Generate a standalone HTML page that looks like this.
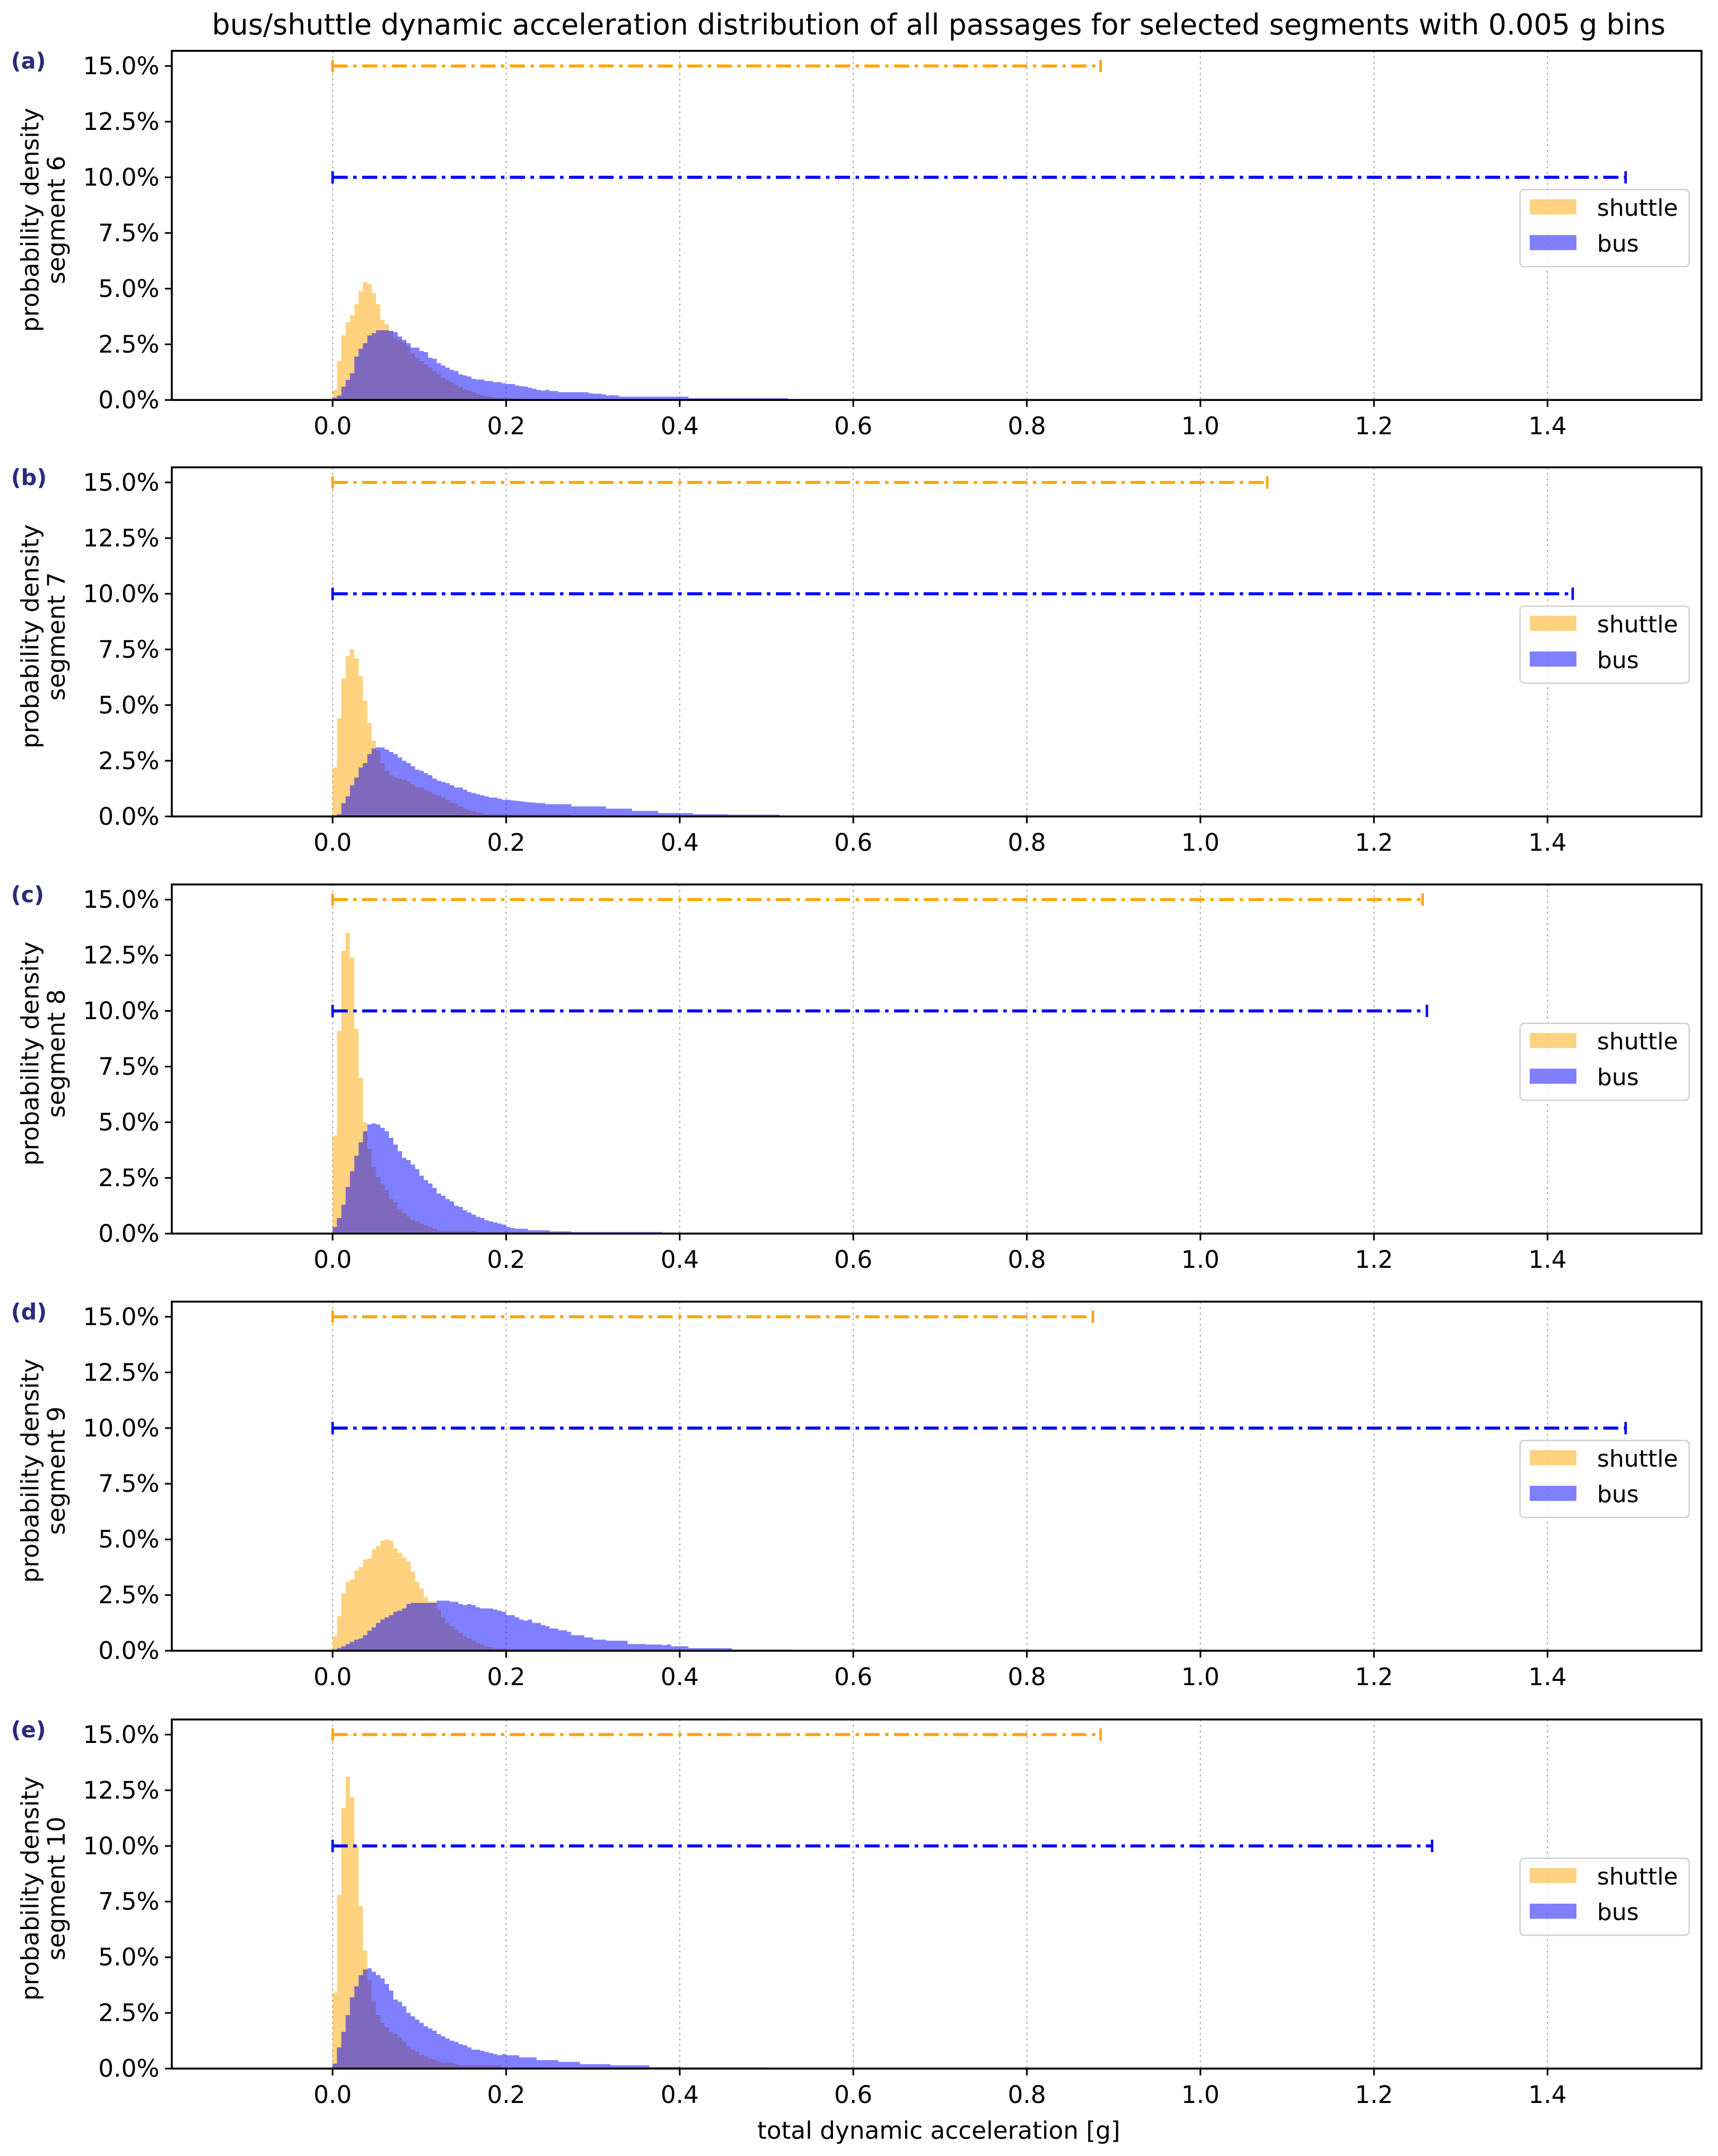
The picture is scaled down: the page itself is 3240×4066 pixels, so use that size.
<!DOCTYPE html>
<html><head><meta charset="utf-8">
<style>
html,body{margin:0;padding:0;background:#fff;}
svg{display:block;}
text{font-family:"DejaVu Sans","Liberation Sans",sans-serif;fill:#000;}
</style></head>
<body>
<svg id="chart" width="3240" height="4066" viewBox="0 0 1250 1568.6" preserveAspectRatio="none" xmlns="http://www.w3.org/2000/svg">
<text x="683" y="25" font-size="20.8" text-anchor="middle">bus/shuttle dynamic acceleration distribution of all passages for selected segments with 0.005  g bins</text>
<text x="683" y="1556" font-size="17.5" text-anchor="middle">total dynamic acceleration [g]</text>
<g id="panels"></g>
</svg>
<script>
const binWidth = 0.005;
const panelLetters = ["(a)","(b)","(c)","(d)","(e)"];
const segmentNames = ["segment 6","segment 7","segment 8","segment 9","segment 10"];
const xTicks = [0.0,0.2,0.4,0.6,0.8,1.0,1.2,1.4];
const yTicks = [0,2.5,5,7.5,10,12.5,15];
const shuttleRangeMax = [0.885,1.077,1.256,0.876,0.885];
const busRangeMax = [1.49,1.429,1.261,1.49,1.267];
const shuttleA = [0.45,1.75,2.9,3.5,3.8,4.3,4.9,5.3,5.2,4.8,4.3,3.6,3.4,3.1,2.8,2.7,2.6,2.4,2.1,1.9,1.75,1.6,1.45,1.3,1.15,1.0,0.9,0.8,0.68,0.58,0.48,0.42,0.35,0.28,0.22,0.18,0.15,0.12,0.1,0.08,0.08,0.06,0.06,0.05,0.05,0.04,0.04,0.03,0.03,0.02,0.02,0.02,0.02,0.02,0.02,0.02];
const busA = [0.1,0.2,0.6,0.9,1.2,1.95,2.3,2.55,2.9,3.0,3.13,3.13,3.13,3.1,3.05,2.85,2.7,2.55,2.35,2.35,2.2,2.15,1.9,1.85,1.65,1.55,1.45,1.35,1.3,1.15,1.1,1.05,0.95,0.92,0.92,0.85,0.85,0.8,0.8,0.75,0.72,0.72,0.65,0.62,0.6,0.55,0.5,0.45,0.42,0.45,0.4,0.4,0.35,0.35,0.35,0.35,0.35,0.35,0.35,0.3,0.28,0.28,0.25,0.2,0.22,0.2,0.15,0.15,0.15,0.15,0.15,0.15,0.15,0.15,0.15,0.15,0.15,0.15,0.15,0.15,0.15,0.15,0.08,0.08,0.08,0.08,0.08,0.08,0.08,0.08,0.08,0.08,0.08,0.08,0.08,0.08,0.08,0.08,0.08,0.08,0.08,0.08,0.08,0.08,0.08];
const shuttleB = [2.2,4.4,6.2,7.2,7.5,7.1,6.3,5.2,4.2,3.4,2.95,2.4,2.05,1.85,1.75,1.7,1.65,1.6,1.45,1.3,1.3,1.2,1.1,1.0,0.95,0.85,0.75,0.62,0.55,0.45,0.35,0.3,0.25,0.2,0.15,0.1,0.1,0.1,0.1,0.1,0.1,0.08,0.08,0.08,0.08,0.08,0.08,0.08,0.08,0.08,0.08,0.08,0.08,0.08,0.08];
const busB = [0.05,0.1,0.6,0.9,1.4,1.75,2.2,2.4,2.8,3.05,3.1,3.1,3.0,2.9,2.8,2.65,2.5,2.4,2.25,2.1,2.05,1.95,1.85,1.7,1.6,1.55,1.5,1.4,1.3,1.3,1.2,1.1,1.05,1.0,0.95,0.9,0.85,0.85,0.8,0.75,0.75,0.72,0.7,0.68,0.65,0.63,0.62,0.6,0.6,0.55,0.55,0.55,0.55,0.55,0.55,0.45,0.45,0.45,0.45,0.45,0.45,0.45,0.45,0.35,0.35,0.35,0.35,0.35,0.35,0.25,0.25,0.25,0.25,0.25,0.25,0.15,0.15,0.15,0.15,0.15,0.15,0.15,0.15,0.1,0.1,0.1,0.1,0.1,0.1,0.1,0.1,0.08,0.08,0.08,0.08,0.08,0.08,0.08,0.08,0.08,0.08,0.08,0.08];
const shuttleC = [4.4,9.1,12.7,13.5,12.4,9.2,7.0,5.0,3.8,3.0,2.55,2.2,1.95,1.55,1.4,1.1,0.92,0.77,0.63,0.55,0.45,0.38,0.3,0.22,0.13,0.13,0.13,0.13,0.13,0.13,0.13,0.13,0.13,0.08,0.08,0.08,0.08,0.08,0.08,0.08,0.08,0.08,0.08,0.08,0.08,0.08,0.08,0.08,0.08,0.08,0.08,0.08,0.08,0.08];
const busC = [0.3,0.7,1.3,2.1,2.8,3.5,4.1,4.6,4.9,4.95,4.9,4.75,4.6,4.3,4.0,3.7,3.4,3.3,3.1,2.9,2.6,2.4,2.25,2.05,1.8,1.7,1.55,1.45,1.25,1.2,1.05,0.95,0.85,0.75,0.7,0.6,0.55,0.5,0.45,0.4,0.3,0.25,0.22,0.22,0.22,0.15,0.15,0.15,0.15,0.15,0.1,0.1,0.1,0.1,0.1,0.07,0.07,0.07,0.07,0.07,0.07,0.07,0.07,0.07,0.07,0.07,0.07,0.07,0.07,0.07,0.07,0.07,0.07,0.07,0.07,0.07];
const shuttleD = [0.65,1.55,2.58,3.1,3.2,3.6,3.75,4.1,4.15,4.55,4.7,4.95,5.0,4.95,4.6,4.4,4.2,4.0,3.55,3.1,2.8,2.4,2.2,2.2,1.85,1.5,1.25,1.1,0.95,0.8,0.65,0.55,0.45,0.35,0.28,0.2,0.16,0.1,0.1,0.1,0.06,0.06,0.06,0.06,0.06,0.06,0.06,0.06,0.06,0.06,0.06,0.06,0.06,0.06,0.06];
const busD = [0.05,0.12,0.2,0.3,0.4,0.5,0.55,0.7,0.9,1.05,1.25,1.4,1.5,1.6,1.75,1.8,1.9,2.1,2.15,2.15,2.15,2.15,2.15,2.15,2.25,2.25,2.25,2.2,2.2,2.1,2.05,2.1,2.05,1.95,1.9,1.9,1.9,1.85,1.8,1.75,1.6,1.6,1.5,1.4,1.35,1.4,1.25,1.25,1.15,1.1,1.0,1.0,0.92,0.92,0.85,0.7,0.7,0.7,0.6,0.6,0.5,0.5,0.5,0.45,0.45,0.45,0.45,0.45,0.3,0.3,0.3,0.3,0.28,0.28,0.28,0.28,0.25,0.28,0.2,0.2,0.2,0.2,0.12,0.12,0.12,0.12,0.12,0.12,0.12,0.12,0.12,0.12,0.05,0.05,0.05,0.05,0.05,0.05,0.05,0.05,0.05,0.05,0.05,0.05,0.05,0.05,0.03,0.03,0.03,0.03,0.03,0.03];
const shuttleE = [3.4,7.8,11.7,13.1,12.2,10.0,7.3,5.3,3.97,3.0,2.4,2.05,1.85,1.65,1.55,1.4,1.2,1.0,0.85,0.75,0.6,0.55,0.45,0.4,0.32,0.27,0.27,0.27,0.2,0.15,0.15,0.15,0.15,0.15,0.15,0.15,0.15,0.15,0.15,0.05,0.05,0.05,0.05,0.05,0.05,0.05,0.05,0.05];
const busE = [0.22,0.95,1.65,2.4,3.2,3.7,4.2,4.45,4.5,4.35,4.2,4.05,3.8,3.5,3.1,3.0,2.8,2.5,2.35,2.2,2.05,1.9,1.8,1.7,1.55,1.45,1.35,1.25,1.2,1.1,1.05,0.95,0.85,0.85,0.8,0.75,0.7,0.65,0.6,0.65,0.6,0.6,0.6,0.5,0.5,0.5,0.5,0.38,0.38,0.38,0.38,0.38,0.3,0.3,0.3,0.3,0.3,0.2,0.2,0.2,0.2,0.2,0.2,0.2,0.15,0.15,0.15,0.15,0.15,0.15,0.15,0.15,0.15,0.07,0.07,0.07,0.07,0.07,0.07,0.07,0.05,0.05,0.05,0.05,0.05,0.05,0.05,0.05,0.05,0.05,0.05,0.05,0.05,0.05,0.05,0.05,0.05,0.05,0.05,0.05,0.03,0.03,0.03,0.03,0.03,0.03,0.03];
const shuttleSeries = [shuttleA,shuttleB,shuttleC,shuttleD,shuttleE];
const busSeries = [busA,busB,busC,busD,busE];

const NS = "http://www.w3.org/2000/svg";
const root = document.getElementById('panels');
const axL = 125, axR = 1238, x0px = 242, pxPerUnit = 631.4;
const panelTops = [37,340,643.5,947,1251];
const axH = 254;
function mk(tag, attrs, parent){const e=document.createElementNS(NS,tag);for(const k in attrs)e.setAttribute(k,attrs[k]);(parent||root).appendChild(e);return e;}
function xs(v){return x0px + v*pxPerUnit;}

panelTops.forEach((top,p)=>{
  const bottom = top + axH;
  const ys = v => bottom - v*(243/15);
  const g = mk('g',{});
  
  
  xTicks.forEach(t=>{
    const l = mk('line',{x1:xs(t),x2:xs(t),y1:top,y2:bottom,stroke:'#b0b0b0','stroke-width':0.9,'stroke-dasharray':'1.5,2.5'},g);
    
    
  });
  function hist(arr, color, name){
    let d = 'M'+xs(0)+','+bottom;
    arr.forEach((v,i)=>{ d += ' L'+xs(i*binWidth)+','+ys(v)+' L'+xs((i+1)*binWidth)+','+ys(v); });
    d += ' L'+xs(arr.length*binWidth)+','+bottom+' Z';
    const h = mk('path',{d:d,fill:color,'fill-opacity':0.5},g);
    
    
  }
  hist(shuttleSeries[p],'#ffa500','shuttle-histogram');
  hist(busSeries[p],'#0000ff','bus-histogram');
  function rangeBar(yv, xmax, color, name){
    const y = ys(yv);
    const gg = mk('g',{},g);
    
    
    mk('line',{x1:xs(0),x2:xs(xmax),y1:y,y2:y,stroke:color,'stroke-width':2.2,'stroke-dasharray':'11,4,2.5,4'},gg);
    mk('line',{x1:xs(0),x2:xs(0),y1:y-4.5,y2:y+4.5,stroke:color,'stroke-width':1.8},gg);
    mk('line',{x1:xs(xmax),x2:xs(xmax),y1:y-4.5,y2:y+4.5,stroke:color,'stroke-width':1.8},gg);
  }
  rangeBar(15, shuttleRangeMax[p], '#ffa500', 'shuttle-range-bar');
  rangeBar(10, busRangeMax[p], '#0000ff', 'bus-range-bar');
  const fr = mk('rect',{x:axL,y:top,width:axR-axL,height:axH,fill:'none',stroke:'#000','stroke-width':1.4},g);
  
  
  xTicks.forEach(t=>{
    mk('line',{x1:xs(t),x2:xs(t),y1:bottom,y2:bottom+5,stroke:'#000','stroke-width':1.2},g);
    const tx = mk('text',{x:xs(t),y:bottom+25,'font-size':17.5,'text-anchor':'middle'},g);
    tx.textContent = t.toFixed(1);
    
    
  });
  yTicks.forEach(t=>{
    mk('line',{x1:axL-5,x2:axL,y1:ys(t),y2:ys(t),stroke:'#000','stroke-width':1.2},g);
    const ty = mk('text',{x:axL-9,y:ys(t)+6,'font-size':17.5,'text-anchor':'end'},g);
    ty.textContent = t.toFixed(1)+'%';
    
    
  });
  const cy = top + axH/2 - 4;
  const yl = mk('text',{x:0,y:0,'font-size':17.5,'text-anchor':'middle',transform:'translate(28,'+cy+') rotate(-90)'},g);
  yl.textContent = 'probability density';
  
  
  const yl2 = mk('text',{x:0,y:0,'font-size':17.5,'text-anchor':'middle',transform:'translate(47,'+cy+') rotate(-90)'},g);
  yl2.textContent = segmentNames[p];
  
  
  const pl = mk('text',{x:8,y:top+13,'font-size':16,'font-weight':'bold'},g);
  pl.setAttribute('style','fill:#2b2b7a');
  pl.textContent = panelLetters[p];
  
  
  const lg = mk('g',{},g);
  
  
  const lt = bottom - 153;
  mk('rect',{x:1106,y:lt,width:123,height:56,rx:3,fill:'#fff','fill-opacity':0.8,stroke:'#d0d0d0','stroke-width':1},lg);
  const e1 = mk('rect',{x:1113,y:lt+7,width:34,height:11,fill:'#ffa500','fill-opacity':0.5},lg);
  
  
  const t1 = mk('text',{x:1162,y:lt+19,'font-size':17},lg); t1.textContent='shuttle';
  
  
  const e2 = mk('rect',{x:1113,y:lt+33,width:34,height:11,fill:'#0000ff','fill-opacity':0.5},lg);
  
  
  const t2 = mk('text',{x:1162,y:lt+45,'font-size':17},lg); t2.textContent='bus';
  
  
});
</script>
</body></html>
